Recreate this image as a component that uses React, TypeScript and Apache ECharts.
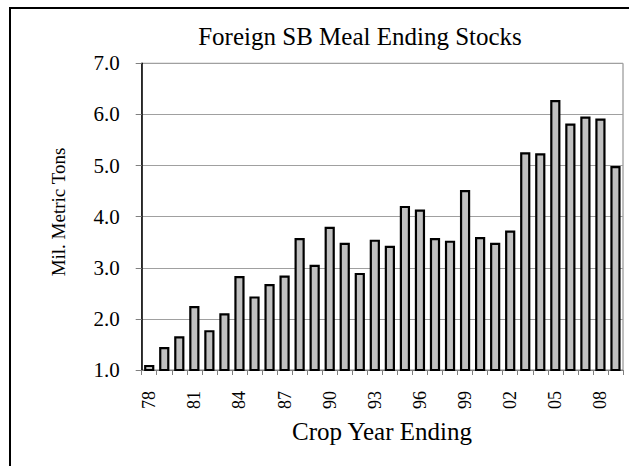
import React, { useEffect, useRef } from "react";
import * as echarts from "echarts";

const categories = [
  "78", "79", "80", "81", "82", "83", "84", "85", "86", "87", "88", "89", "90", "91", "92", "93",
  "94", "95", "96", "97", "98", "99", "00", "01", "02", "03", "04", "05", "06", "07", "08", "09",
];
const stocks = [
  1.1, 1.45, 1.66, 2.25, 1.78, 2.11, 2.84, 2.44, 2.68, 2.85, 3.58, 3.06, 3.8, 3.49, 2.9, 3.55,
  3.43, 4.21, 4.14, 3.58, 3.53, 4.52, 3.6, 3.49, 3.73, 5.26, 5.24, 6.28, 5.82, 5.96, 5.92, 4.99,
];
const titleText = "Foreign SB Meal Ending Stocks";
const yName = "Mil. Metric Tons";
const xName = "Crop Year Ending";

const FONT = "'Liberation Serif', 'Times New Roman', serif";

export default function App() {
  const ref = useRef<HTMLDivElement>(null);
  useEffect(() => {
    if (!ref.current) return;
    const chart = echarts.init(ref.current, undefined, { renderer: "svg" });
    chart.setOption({
      animation: false,
      backgroundColor: "#ffffff",
      grid: {
        left: 141.7,
        right: 6,
        top: 63.3,
        bottom: 96,
        show: true,
        borderColor: "#808080",
        borderWidth: 1,
        backgroundColor: "transparent",
      },
      xAxis: {
        type: "category",
        data: categories,
        boundaryGap: true,
        axisLine: { show: true, lineStyle: { color: "#808080", width: 1 } },
        axisTick: { show: true, interval: 0, length: 5, lineStyle: { color: "#808080" } },
        axisLabel: {
          interval: 2,
          rotate: 90,
          margin: 21,
          fontFamily: FONT,
          fontSize: 18,
          color: "#000",
        },
      },
      yAxis: {
        type: "value",
        min: 1,
        max: 7,
        interval: 1,
        axisLine: { show: true, lineStyle: { color: "#000", width: 1.5 } },
        axisTick: { show: true, length: 6, lineStyle: { color: "#808080" } },
        splitLine: { show: true, lineStyle: { color: "#a0a0a0", width: 1 } },
        axisLabel: {
          margin: 22,
          fontFamily: FONT,
          fontSize: 21,
          color: "#000",
          formatter: (v: number) => v.toFixed(1),
        },
      },
      series: [
        {
          type: "bar",
          data: stocks,
          barCategoryGap: "32%",
          itemStyle: { color: "#c0c0c0", borderColor: "#000", borderWidth: 2.2 },
        },
      ],
      graphic: [
        {
          type: "rect",
          shape: { x: 10, y: 8, width: 700, height: 600 },
          style: { fill: "none", stroke: "#000", lineWidth: 2 },
          silent: true,
        },
        {
          type: "text",
          x: 360,
          y: 36,
          style: {
            text: titleText,
            fontFamily: FONT,
            fontSize: 25,
            fill: "#000",
            align: "center",
            verticalAlign: "middle",
          },
        },
        {
          type: "text",
          x: 58,
          y: 212,
          rotation: Math.PI / 2,
          style: {
            text: yName,
            fontFamily: FONT,
            fontSize: 19,
            fill: "#000",
            align: "center",
            verticalAlign: "middle",
          },
        },
        {
          type: "text",
          x: 382,
          y: 431,
          style: {
            text: xName,
            fontFamily: FONT,
            fontSize: 25,
            fill: "#000",
            align: "center",
            verticalAlign: "middle",
          },
        },
      ],
    });
    return () => chart.dispose();
  }, []);
  return (
    <div
      ref={ref}
      style={{ position: "absolute", left: 0, top: 0, width: 629, height: 466, background: "#fff" }}
    />
  );
}
